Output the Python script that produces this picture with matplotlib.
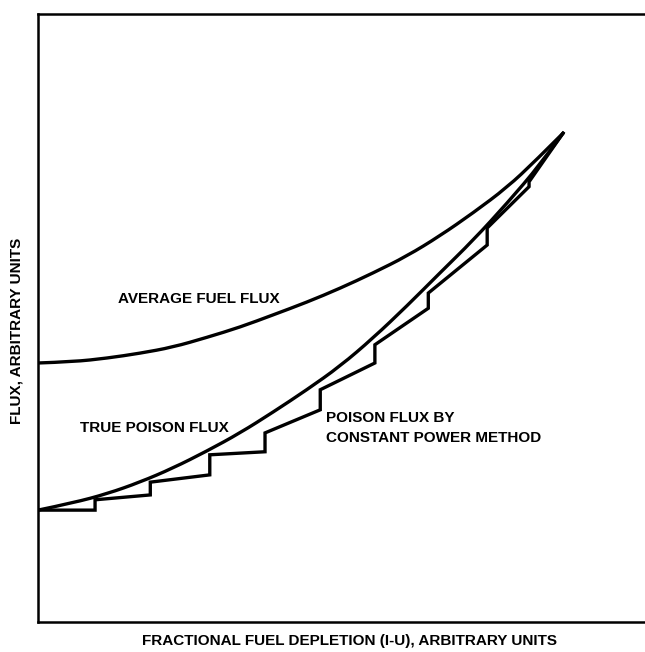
import matplotlib
matplotlib.use("Agg")
import matplotlib.pyplot as plt
from matplotlib.path import Path
from matplotlib.patches import PathPatch

# Fractional fuel depletion (arbitrary units) and flux values (arbitrary units)
avg_x = [0, 5.8, 11.4, 16.8, 22.2, 27.8, 33.3, 38.7, 44.3, 49.8, 55.2, 60.8, 66.2, 71.7, 77.3, 81.9, 86.5]
avg_flux = [42.6, 42.8, 43.4, 44.2, 45.2, 46.8, 48.5, 50.5, 52.6, 54.9, 57.4, 60.2, 63.5, 67.3, 71.5, 75.8, 80.4]

true_x = [0, 5.8, 11.4, 16.8, 22.2, 27.8, 33.3, 38.7, 44.3, 49.8, 55.2, 60.8, 66.2, 71.7, 77.3, 82.7, 86.5]
true_flux = [18.4, 19.6, 21.1, 23.0, 25.3, 28.1, 31.1, 34.5, 38.2, 42.1, 46.7, 52.0, 57.4, 62.8, 68.9, 75.2, 80.4]

# Constant power method: flux over each depletion interval (value at start / end)
step_edges = [0, 9.4, 18.5, 28.3, 37.4, 46.5, 55.5, 64.3, 74.0, 80.9, 86.5]
step_start = [18.4, 20.1, 23.0, 27.5, 31.1, 38.2, 45.6, 54.1, 64.8, 72.4]
step_end = [18.4, 20.9, 24.2, 28.0, 34.9, 42.6, 51.6, 62.0, 71.6, 80.4]

FONT = ["Liberation Sans Narrow", "Liberation Sans", "DejaVu Sans"]


def smooth_path(xs, ys):
    """Quadratic Bezier path: interior points act as control points,
    segments join at the midpoints between them."""
    pts = list(zip(xs, ys))
    verts = [pts[0]]
    codes = [Path.MOVETO]
    for i in range(1, len(pts) - 1):
        if i < len(pts) - 2:
            end = ((pts[i][0] + pts[i + 1][0]) / 2, (pts[i][1] + pts[i + 1][1]) / 2)
        else:
            end = pts[-1]
        verts += [pts[i], end]
        codes += [Path.CURVE3, Path.CURVE3]
    return Path(verts, codes)


fig = plt.figure(figsize=(6.45, 6.52), dpi=100)
ax = fig.add_axes([38 / 645, 30 / 652, 1 - 38 / 645, 608 / 652])
ax.set_xlim(0, 100)
ax.set_ylim(0, 100)

lw = 2.4
for xs, ys in ((avg_x, avg_flux), (true_x, true_flux)):
    ax.add_patch(PathPatch(smooth_path(xs, ys), fill=False, edgecolor="black",
                           lw=lw, capstyle="round", joinstyle="round"))

sx, sy = [], []
for i in range(len(step_start)):
    sx += [step_edges[i], step_edges[i + 1]]
    sy += [step_start[i], step_end[i]]
ax.plot(sx, sy, color="black", lw=lw, solid_joinstyle="miter")

for side in ("left", "top", "bottom"):
    ax.spines[side].set_linewidth(1.8)
ax.spines["right"].set_visible(False)
ax.set_xticks([])
ax.set_yticks([])

txt = dict(family=FONT, fontweight="bold", fontsize=11, color="black")
ax.text(13.2, 53.1, "AVERAGE FUEL FLUX", ha="left", va="center", **txt)
ax.text(6.9, 31.9, "TRUE POISON FLUX", ha="left", va="center", **txt)
ax.text(47.4, 33.6, "POISON FLUX BY", ha="left", va="center", **txt)
ax.text(47.4, 30.3, "CONSTANT POWER METHOD", ha="left", va="center", **txt)

fig.text(350 / 645, 1 - 641 / 652, "FRACTIONAL FUEL DEPLETION (I-U), ARBITRARY UNITS",
         ha="center", va="center", **txt)
fig.text(17 / 645, 1 - 331 / 652, "FLUX, ARBITRARY UNITS", rotation=90,
         ha="center", va="center", **txt)

fig.savefig("out.png", dpi=100)
